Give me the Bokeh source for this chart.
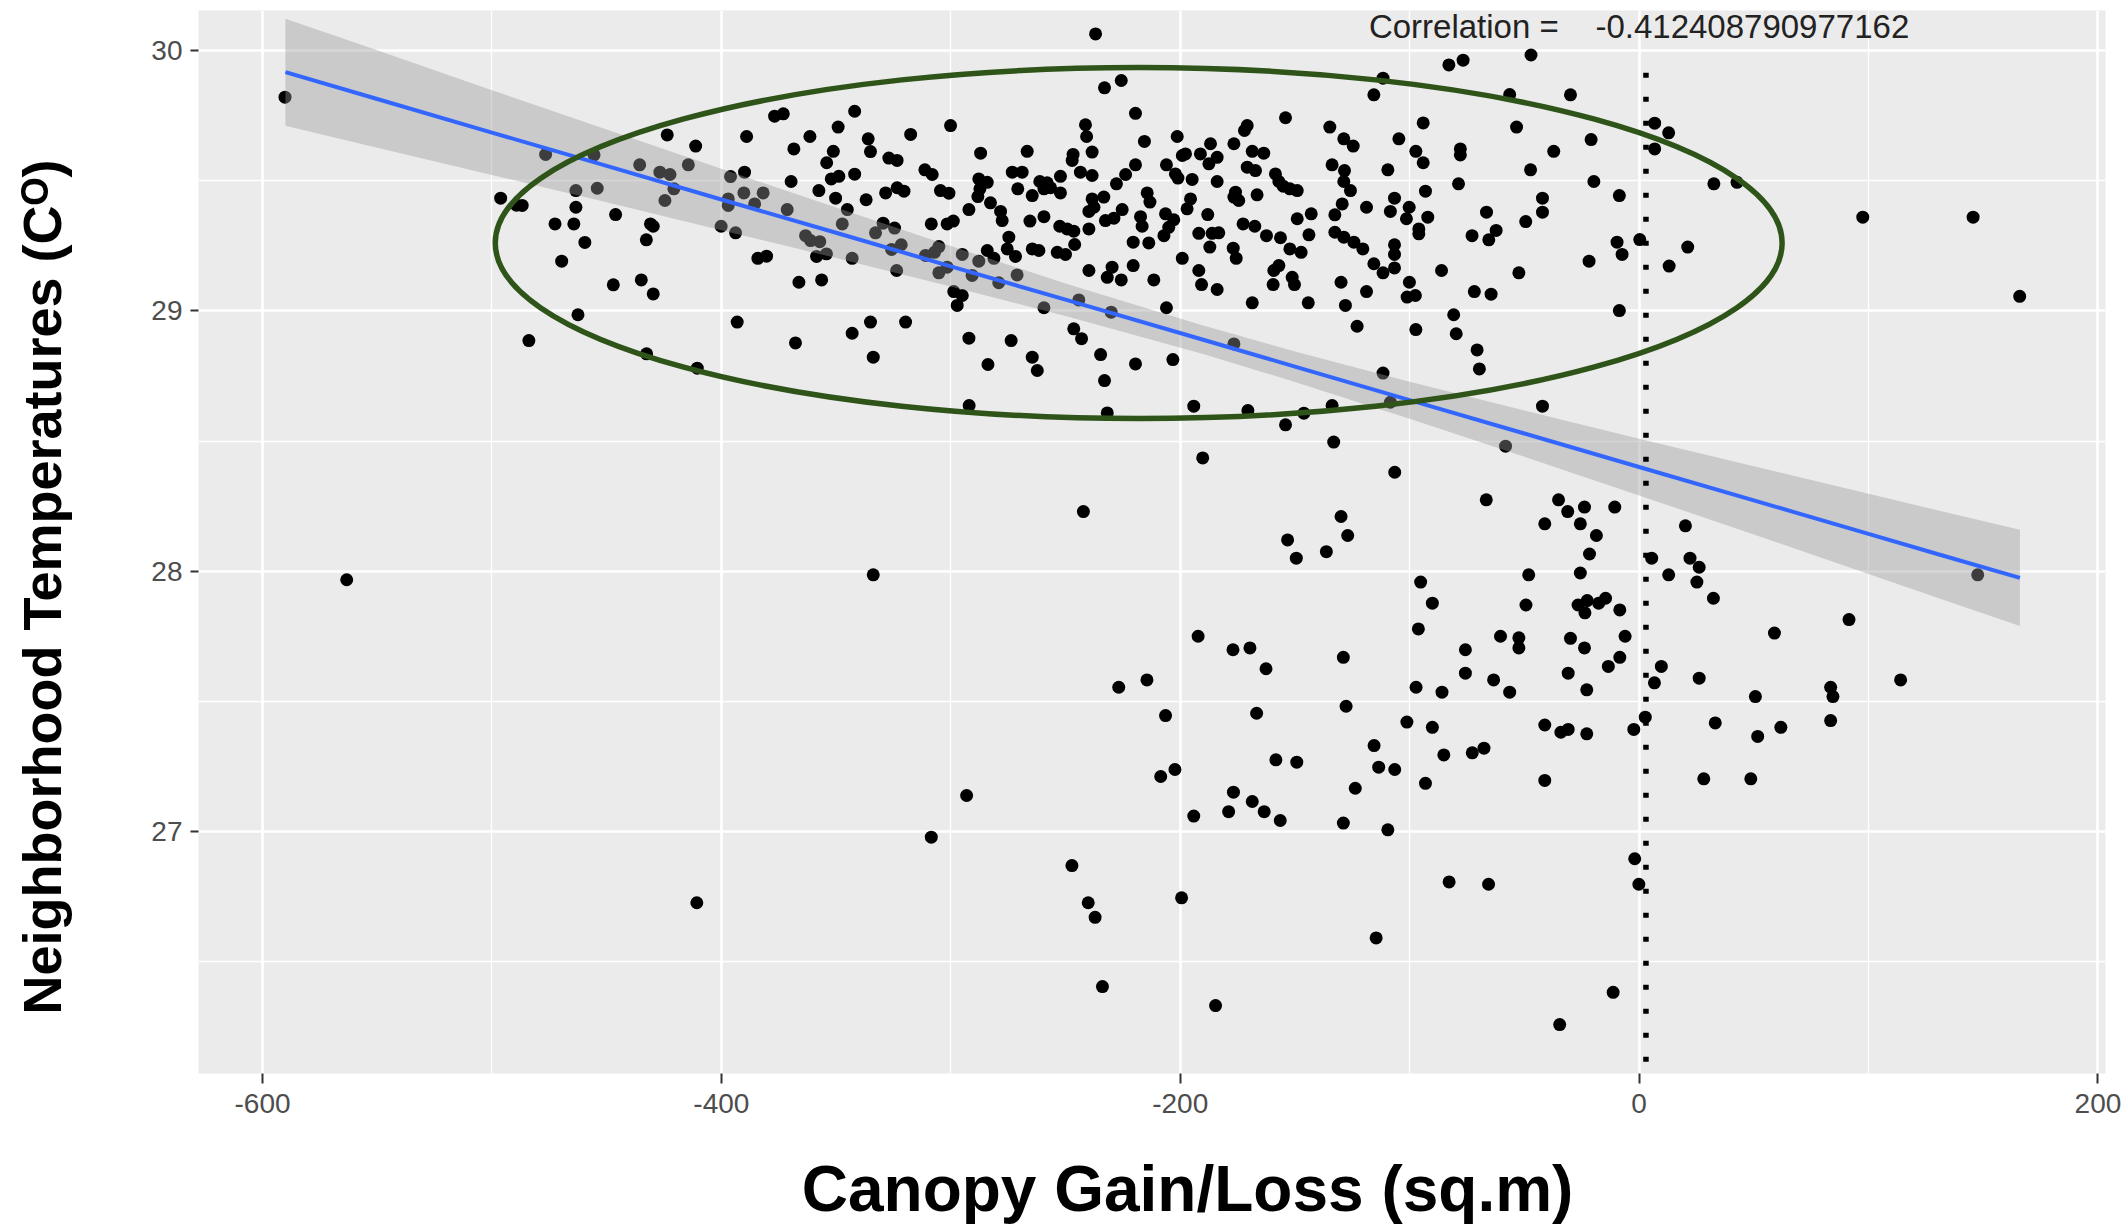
import numpy as np
from bokeh.plotting import figure
from bokeh.models import Range1d, Label, FixedTicker, ColumnDataSource
from bokeh.embed import file_html
from bokeh.resources import INLINE

# ---------------- data (canopy gain/loss in sq.m, neighborhood temperature in C) ----------------
pts_far_west = [(-590.2, 29.821), (-563.3, 27.967), (-410.7, 26.726)]

pts_west = [
    (-476.6, 29.601), (-455.5, 29.599), (-496.2, 29.433), (-489.3, 29.406), (-486.8, 29.405),
    (-463.4, 29.462), (-454.1, 29.471), (-463.4, 29.398), (-446.1, 29.370), (-472.5, 29.334),
    (-464.3, 29.334), (-459.5, 29.263), (-469.6, 29.191), (-430.9, 29.334), (-429.7, 29.325),
    (-432.7, 29.273), (-423.6, 29.676), (-411.2, 29.633), (-435.6, 29.561), (-426.8, 29.533),
    (-422.4, 29.524), (-414.4, 29.561), (-420.7, 29.469), (-424.6, 29.424), (-447.1, 29.100),
    (-434.9, 29.119), (-429.7, 29.065), (-462.5, 28.985), (-483.9, 28.886), (-432.6, 28.835),
    (-410.5, 28.780), (-393.1, 28.957), (-389.0, 29.670), (-376.8, 29.748), (-389.9, 29.533),
    (-396.0, 29.516), (-390.2, 29.453), (-381.8, 29.453), (-397.0, 29.430), (-397.0, 29.405),
    (-385.5, 29.411), (-400.1, 29.325), (-393.8, 29.300), (-384.1, 29.202), (-380.3, 29.210),
]

pts_mid_west = [
    (-373.0, 29.757), (-341.9, 29.767), (-368.4, 29.622), (-361.4, 29.670), (-349.1, 29.706),
    (-336.0, 29.661), (-335.0, 29.612), (-351.2, 29.613), (-354.1, 29.569), (-369.6, 29.497),
    (-352.1, 29.507), (-348.8, 29.517), (-341.9, 29.525), (-357.5, 29.462), (-350.2, 29.433),
    (-336.9, 29.427), (-327.0, 29.587), (-323.4, 29.578), (-317.5, 29.678), (-328.4, 29.453),
    (-323.4, 29.473), (-320.4, 29.460), (-311.3, 29.542), (-308.1, 29.524), (-300.1, 29.712),
    (-287.0, 29.606), (-304.5, 29.462), (-300.8, 29.452), (-371.3, 29.389), (-345.1, 29.389),
    (-347.3, 29.334), (-363.3, 29.289), (-361.1, 29.270), (-357.1, 29.266), (-354.2, 29.219),
    (-358.5, 29.209), (-343.0, 29.202), (-366.2, 29.110), (-356.3, 29.119), (-332.8, 29.300),
    (-329.5, 29.337), (-324.5, 29.318), (-325.8, 29.236), (-321.6, 29.254), (-323.6, 29.155),
    (-308.5, 29.334), (-301.6, 29.334), (-298.9, 29.345), (-311.0, 29.213), (-307.1, 29.225),
    (-305.2, 29.247), (-305.2, 29.146), (-301.6, 29.168), (-295.0, 29.217), (-287.8, 29.191),
    (-290.7, 29.136), (-292.1, 29.389), (-298.7, 29.074), (-295.0, 29.059), (-297.2, 29.021),
    (-287.8, 29.507), (-284.1, 29.494), (-287.3, 29.469), (-288.2, 29.439), (-282.7, 29.415),
    (-278.3, 29.382), (-277.6, 29.347), (-266.7, 29.613), (-273.2, 29.533), (-268.9, 29.533),
    (-270.8, 29.469), (-264.5, 29.443), (-265.5, 29.345), (-259.4, 29.362), (-261.2, 29.497),
    (-258.0, 29.492), (-259.4, 29.469), (-256.5, 29.473), (-252.2, 29.517), (-252.2, 29.453),
    (-246.7, 29.601), (-247.1, 29.578), (-241.3, 29.715), (-240.8, 29.670), (-243.5, 29.533),
    (-252.5, 29.325), (-249.3, 29.315), (-246.4, 29.306), (-246.0, 29.255), (-239.8, 29.382),
    (-239.8, 29.315), (-239.8, 29.155), (-274.7, 29.283), (-275.4, 29.238), (-271.8, 29.209),
    (-284.1, 29.232), (-281.2, 29.202), (-264.5, 29.238), (-261.6, 29.232), (-253.6, 29.225),
    (-250.0, 29.217), (-271.1, 29.138), (-279.1, 29.108), (-259.4, 29.012), (-244.2, 29.042),
    (-246.4, 28.931), (-243.0, 28.893), (-292.1, 28.895), (-273.7, 28.886), (-283.8, 28.794),
    (-264.5, 28.822), (-262.3, 28.771), (-292.0, 28.636), (-367.7, 28.877), (-343.0, 28.914),
    (-335.0, 28.957), (-319.7, 28.957), (-333.8, 28.822),
]

pts_centre = [
    (-238.4, 29.610), (-238.4, 29.520), (-238.4, 29.430),
    (-233.0, 29.857), (-225.7, 29.885), (-219.5, 29.759), (-215.6, 29.651), (-219.5, 29.561),
    (-223.8, 29.524), (-227.8, 29.488), (-233.3, 29.437), (-237.6, 29.398), (-232.6, 29.347),
    (-228.9, 29.356), (-225.3, 29.389), (-217.3, 29.362), (-216.6, 29.325), (-214.4, 29.453),
    (-213.2, 29.418), (-206.4, 29.373), (-202.8, 29.350), (-205.0, 29.321), (-207.1, 29.289),
    (-220.5, 29.264), (-213.7, 29.261), (-206.0, 29.561), (-201.3, 29.670), (-202.1, 29.526),
    (-201.0, 29.510), (-199.1, 29.597), (-197.7, 29.603), (-194.8, 29.505), (-195.5, 29.430),
    (-197.0, 29.392), (-191.2, 29.603), (-186.8, 29.642), (-187.5, 29.565), (-183.9, 29.590),
    (-183.9, 29.497), (-188.0, 29.370), (-191.9, 29.298), (-186.1, 29.298), (-183.2, 29.300),
    (-187.1, 29.245), (-199.1, 29.202), (-191.9, 29.155), (-190.7, 29.101), (-183.9, 29.082),
    (-211.5, 29.119), (-220.5, 29.174), (-229.7, 29.168), (-231.8, 29.129), (-225.7, 29.119),
    (-206.0, 29.012), (-230.1, 28.995), (-234.7, 28.832), (-219.5, 28.796), (-233.0, 28.732),
    (-203.2, 28.813), (-231.8, 28.608), (-194.1, 28.634), (-176.6, 29.642), (-170.8, 29.712),
    (-172.0, 29.693), (-168.6, 29.613), (-163.6, 29.606), (-170.8, 29.552), (-167.2, 29.539),
    (-175.9, 29.456), (-174.5, 29.424), (-176.6, 29.437), (-166.5, 29.446), (-172.6, 29.334),
    (-167.5, 29.325), (-176.9, 29.241), (-175.6, 29.202), (-168.6, 29.031), (-154.1, 29.742),
    (-158.5, 29.526), (-157.0, 29.497), (-155.1, 29.479), (-152.2, 29.469), (-149.0, 29.462),
    (-162.4, 29.289), (-156.3, 29.281), (-152.2, 29.238), (-147.3, 29.225), (-149.0, 29.354),
    (-142.9, 29.373), (-143.9, 29.292), (-157.0, 29.174), (-159.2, 29.155), (-159.5, 29.101),
    (-151.2, 29.129), (-150.2, 29.101), (-144.2, 29.031), (-134.8, 29.706), (-128.7, 29.661),
    (-124.6, 29.633), (-133.8, 29.561), (-128.4, 29.539), (-128.7, 29.497), (-125.8, 29.462),
    (-129.4, 29.411), (-132.6, 29.369), (-132.6, 29.302), (-128.7, 29.283), (-124.3, 29.264),
    (-120.4, 29.238), (-118.8, 29.398), (-115.6, 29.830), (-111.6, 29.894), (-109.5, 29.542),
    (-108.4, 29.382), (-106.6, 29.433), (-115.6, 29.181), (-111.6, 29.146), (-106.6, 29.165),
    (-106.6, 29.254), (-106.6, 29.217), (-129.9, 29.110), (-118.8, 29.074), (-128.0, 29.021),
    (-122.9, 28.941), (-176.6, 28.873), (-111.6, 28.761), (-108.4, 28.649), (-170.5, 28.617),
    (-146.1, 28.607), (-133.8, 28.636), (-154.1, 28.562), (-133.1, 28.496), (-104.7, 29.661),
]

pts_mid_east = [
    (-82.9, 29.945), (-76.7, 29.963), (-56.4, 29.831), (-29.9, 29.830), (-94.1, 29.722),
    (-53.4, 29.706), (-20.9, 29.658), (-97.3, 29.613), (-94.1, 29.569), (-77.9, 29.622),
    (-77.9, 29.599), (-37.2, 29.613), (-47.3, 29.542), (-78.7, 29.488), (-93.1, 29.460),
    (-19.7, 29.497), (-8.6, 29.443), (6.8, 29.721), (12.9, 29.684), (6.8, 29.622),
    (-42.1, 29.433), (-42.1, 29.379), (-66.5, 29.379), (-49.4, 29.343), (-100.2, 29.398),
    (-101.4, 29.354), (-92.1, 29.360), (-96.0, 29.315), (-96.0, 29.296), (-72.8, 29.289),
    (-65.5, 29.273), (-62.3, 29.309), (-86.1, 29.155), (-52.4, 29.146), (-21.8, 29.191),
    (-9.6, 29.264), (-7.4, 29.217), (0.3, 29.274), (21.2, 29.245), (13.1, 29.172),
    (-100.1, 29.110), (-101.1, 29.053), (-97.5, 29.059), (-71.8, 29.074), (-64.5, 29.064),
    (-80.8, 28.985), (-97.3, 28.928), (-79.7, 28.912), (-70.6, 28.850), (-69.6, 28.777),
    (-8.6, 29.001), (-42.1, 28.634),
]

pts_top_extra = [
    (-47.1, 29.983), (32.6, 29.488), (42.7, 29.494), (97.5, 29.360), (145.6, 29.360),
    (165.9, 29.056), (-236.9, 30.064),
]

pts_low_centre = [
    (-190.2, 28.435), (-106.5, 28.380), (-242.2, 28.229), (-129.9, 28.210), (-127.0, 28.137),
    (-153.2, 28.120), (-149.4, 28.050), (-136.3, 28.075), (-333.8, 27.986), (-192.2, 27.750),
    (-177.0, 27.698), (-169.6, 27.705), (-162.6, 27.625), (-128.9, 27.669), (-214.5, 27.582),
    (-226.8, 27.554), (-206.4, 27.445), (-166.7, 27.454), (-127.7, 27.481), (-115.5, 27.330),
    (-158.3, 27.275), (-149.2, 27.266), (-113.5, 27.247), (-106.5, 27.238), (-202.3, 27.238),
    (-208.5, 27.211), (-123.7, 27.166), (-176.8, 27.151), (-168.6, 27.115), (-163.4, 27.076),
    (-178.9, 27.076), (-194.1, 27.059), (-156.4, 27.042), (-128.9, 27.032), (-109.5, 27.006),
    (-293.1, 27.138), (-308.5, 26.978),
]

pts_low_east = [
    (-58.2, 28.480), (-66.6, 28.274), (-35.1, 28.274), (-31.1, 28.229), (-23.8, 28.246),
    (-10.6, 28.246), (-41.1, 28.182), (-25.6, 28.182), (-18.6, 28.137), (20.2, 28.174),
    (-21.6, 28.066), (5.5, 28.050), (22.2, 28.050), (26.2, 28.015), (-25.6, 27.993),
    (-48.1, 27.986), (12.9, 27.986), (25.2, 27.958), (147.6, 27.986), (-95.2, 27.958),
    (-90.1, 27.877), (32.4, 27.896), (-49.3, 27.870), (-26.6, 27.870), (-22.6, 27.887),
    (-14.6, 27.896), (-17.6, 27.877), (-23.6, 27.840), (-8.4, 27.851), (91.5, 27.814),
    (-96.2, 27.778), (59.0, 27.762), (-60.4, 27.750), (-52.4, 27.744), (-29.9, 27.742),
    (-6.1, 27.750), (-52.4, 27.705), (-23.8, 27.705), (-75.7, 27.698), (-8.4, 27.669),
    (-13.4, 27.634), (9.7, 27.634), (-75.7, 27.608), (-30.9, 27.608), (-63.4, 27.582),
    (26.2, 27.589), (6.7, 27.571), (114.0, 27.582), (-97.2, 27.554), (-85.9, 27.535),
    (-56.4, 27.535), (-22.8, 27.544), (83.5, 27.554), (84.5, 27.518), (50.7, 27.518),
    (83.5, 27.426), (-101.2, 27.420), (-90.1, 27.400), (-41.1, 27.409), (-34.1, 27.381),
    (-30.9, 27.392), (-22.8, 27.375), (-2.3, 27.392), (2.7, 27.439), (33.2, 27.417),
    (61.8, 27.400), (51.7, 27.365), (-85.1, 27.294), (-72.7, 27.302), (-67.6, 27.320),
    (-93.1, 27.185), (-41.1, 27.196), (28.2, 27.202), (48.7, 27.202),
]

pts_bottom = [
    (-247.2, 26.869), (-240.1, 26.726), (-237.1, 26.670), (-199.4, 26.745), (-233.9, 26.404),
    (-184.6, 26.331), (-114.6, 26.591), (-82.8, 26.806), (-65.6, 26.797), (-1.9, 26.895),
    (-0.1, 26.797), (-11.3, 26.382), (-34.6, 26.258),
]

# linear fit (geom_smooth, method = lm)
fit_x = [-590, -550, -500, -450, -400, -350, -300, -250, -190, -150, -100, -50, 0, 50, 100, 130, 166]
fit_y = [29.917, 29.814, 29.685, 29.557, 29.428, 29.300, 29.171, 29.043, 28.889, 28.786,
         28.657, 28.529, 28.400, 28.272, 28.143, 28.066, 27.974]
band_lo = [29.711, 29.627, 29.522, 29.417, 29.310, 29.203, 29.094, 28.980, 28.834, 28.727,
           28.586, 28.440, 28.291, 28.141, 27.989, 27.898, 27.789]
band_hi = [30.122, 30.001, 29.848, 29.697, 29.546, 29.397, 29.249, 29.105, 28.944, 28.844,
           28.728, 28.617, 28.509, 28.403, 28.297, 28.234, 28.159]

x_ticks = [-600, -400, -200, 0, 200]
x_minor = [-500, -300, -100, 100]
y_ticks = [27, 28, 29, 30]
y_minor = [26.5, 27.5, 28.5, 29.5]

NBSP = "\u00a0"
corr_text = "Correlation =" + NBSP * 3 + " -0.412408790977162"
x_title = NBSP * 4 + "Canopy Gain/Loss (sq.m)"
y_title = "Neighborhood Temperatures (C\u1D3C)" + NBSP * 6

# hand-drawn annotation shapes (in data coordinates)
ellipse_centre = (-218.1, 29.2605)
ellipse_size = (560.9, 1.3485)
ref_line_x = 3.0

# ---------------- figure ----------------
all_pts = (pts_far_west + pts_west + pts_mid_west + pts_centre + pts_mid_east
           + pts_top_extra + pts_low_centre + pts_low_east + pts_bottom)
canopy = [p_[0] for p_ in all_pts]
temp = [p_[1] for p_ in all_pts]

p = figure(width=2123, height=1227, output_backend="svg", toolbar_location=None,
           x_range=Range1d(-627.9, 203.3), y_range=Range1d(26.070, 30.154),
           min_border_left=198, min_border_right=18, min_border_top=10, min_border_bottom=154)

p.background_fill_color = "#EBEBEB"
p.border_fill_color = "white"
p.outline_line_color = None

p.xaxis.ticker = FixedTicker(ticks=x_ticks, minor_ticks=x_minor)
p.yaxis.ticker = FixedTicker(ticks=y_ticks, minor_ticks=y_minor)
p.xaxis.major_label_overrides = {t: str(t) for t in x_ticks}
p.yaxis.major_label_overrides = {t: str(t) for t in y_ticks}
for g in (p.xgrid, p.ygrid):
    g.grid_line_color = "white"
    g.grid_line_width = 2.6
    g.minor_grid_line_color = "white"
    g.minor_grid_line_width = 1.3

for ax in (p.xaxis, p.yaxis):
    ax.axis_line_color = None
    ax.minor_tick_line_color = None
    ax.major_tick_line_color = "#333333"
    ax.major_tick_line_width = 2
    ax.major_tick_in = 0
    ax.major_label_text_font = "Liberation Sans"
    ax.major_label_text_font_size = "28px"
    ax.major_label_text_color = "#4D4D4D"
    ax.axis_label_text_font = "Liberation Sans"
    ax.axis_label_text_font_style = "bold"
    ax.axis_label_text_color = "black"
p.xaxis.major_tick_out = 10
p.xaxis.major_label_standoff = 10
p.yaxis.major_tick_out = 8
p.yaxis.major_label_standoff = 8

p.xaxis.axis_label = x_title
p.xaxis.axis_label_text_font_size = "64px"
p.xaxis.axis_label_standoff = 37
p.yaxis.axis_label = y_title
p.yaxis.axis_label_text_font_size = "54px"
p.yaxis.axis_label_standoff = 76

src = ColumnDataSource(dict(x=canopy, y=temp))
p.scatter("x", "y", source=src, size=13, marker="circle", fill_color="black", line_color=None)

p.varea(x=fit_x, y1=band_lo, y2=band_hi, fill_color="#999999", fill_alpha=0.4)
p.line(fit_x, fit_y, line_color="#3366FF", line_width=4)

p.ellipse(x=[ellipse_centre[0]], y=[ellipse_centre[1]], width=[ellipse_size[0]],
          height=[ellipse_size[1]], fill_color=None, line_color="#2F5419", line_width=5.5)

p.segment(x0=[ref_line_x], y0=[29.915], x1=[ref_line_x], y1=[25.9],
          line_color="black", line_width=5.5, line_dash="5 19", line_cap="butt")

p.add_layout(Label(x=0, y=30.094, text=corr_text, text_align="center",
                   text_baseline="alphabetic", text_font="Liberation Sans",
                   text_font_size="33px", text_color="#222222"))

open("out.html", "w").write(file_html(p, INLINE))
